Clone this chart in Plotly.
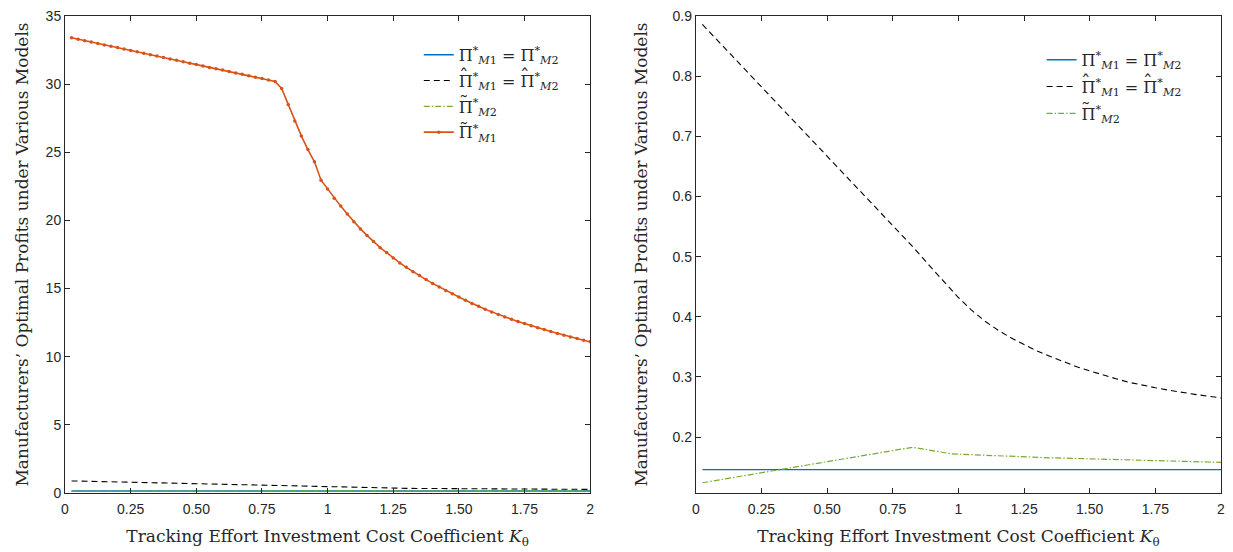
import plotly.graph_objects as go

# ---------------- data ----------------
K_ORANGE = [0.025, 0.05, 0.075, 0.1, 0.125, 0.15, 0.175, 0.2, 0.225, 0.25,
            0.275, 0.3, 0.325, 0.35, 0.375, 0.4, 0.425, 0.45, 0.475, 0.5,
            0.525, 0.55, 0.575, 0.6, 0.625, 0.65, 0.675, 0.7, 0.725, 0.75,
            0.775, 0.8, 0.825, 0.85, 0.875, 0.9, 0.925, 0.95, 0.975, 1.0,
            1.025, 1.05, 1.075, 1.1, 1.125, 1.15, 1.175, 1.2, 1.225, 1.25,
            1.275, 1.3, 1.325, 1.35, 1.375, 1.4, 1.425, 1.45, 1.475, 1.5,
            1.525, 1.55, 1.575, 1.6, 1.625, 1.65, 1.675, 1.7, 1.725, 1.75,
            1.775, 1.8, 1.825, 1.85, 1.875, 1.9, 1.925, 1.95, 1.975, 2.0]
PI_TILDE_M1 = [33.40, 33.30, 33.19, 33.09, 32.99, 32.88, 32.78, 32.68, 32.57, 32.47,
               32.37, 32.26, 32.16, 32.06, 31.95, 31.85, 31.75, 31.65, 31.54, 31.44,
               31.34, 31.23, 31.13, 31.03, 30.92, 30.82, 30.72, 30.61, 30.51, 30.41,
               30.30, 30.20, 29.68, 28.50, 27.30, 26.20, 25.20, 24.30, 22.95, 22.30,
               21.63, 21.05, 20.47, 19.90, 19.38, 18.90, 18.45, 18.00, 17.64, 17.25,
               16.88, 16.56, 16.24, 15.95, 15.66, 15.38, 15.12, 14.86, 14.62, 14.38,
               14.14, 13.91, 13.70, 13.49, 13.29, 13.10, 12.91, 12.75, 12.59, 12.43,
               12.28, 12.13, 11.99, 11.85, 11.71, 11.58, 11.45, 11.33, 11.21, 11.10]

K_CURVES = [0.025, 0.8, 0.825, 0.9, 0.975, 1.0, 1.05, 1.1, 1.15, 1.2, 1.25, 1.3,
            1.35, 1.4, 1.45, 1.5, 1.55, 1.6, 1.65, 1.7, 1.75, 1.8, 1.85, 1.9,
            1.95, 2.0]
PI_HAT = [0.886, 0.527, 0.517, 0.480, 0.444, 0.432, 0.411, 0.393, 0.378, 0.365,
          0.354, 0.343, 0.334, 0.325, 0.317, 0.310, 0.303, 0.297, 0.291, 0.286,
          0.282, 0.278, 0.274, 0.271, 0.268, 0.265]
PI_TILDE_M2 = [0.124, 0.1815, 0.183, 0.1775, 0.172, 0.1715, 0.1705, 0.1695, 0.169,
               0.168, 0.1672, 0.1665, 0.1655, 0.165, 0.1643, 0.1636, 0.163, 0.1624,
               0.1618, 0.1612, 0.1606, 0.160, 0.1595, 0.159, 0.1585, 0.158]

K_BASE = [0.025, 2.0]
PI_BASE = [0.146, 0.146]

X_TICKS = [0, 0.25, 0.5, 0.75, 1, 1.25, 1.5, 1.75, 2]
X_TICKTEXT = ["0", "0.25", "0.50", "0.75", "1", "1.25", "1.50", "1.75", "2"]
Y1_TICKS = [0, 5, 10, 15, 20, 25, 30, 35]
Y2_TICKS = [0.2, 0.3, 0.4, 0.5, 0.6, 0.7, 0.8, 0.9]
Y2_TICKTEXT = ["0.2", "0.3", "0.4", "0.5", "0.6", "0.7", "0.8", "0.9"]

# legend labels (hat / tilde accents are laid over the Π as separate text)
NAME_BASE = "Π<sup>*</sup><sub><i>M</i>1</sub> = Π<sup>*</sup><sub><i>M</i>2</sub>"
NAME_HAT = "Π<sup>*</sup><sub><i>M</i>1</sub> = Π<sup>*</sup><sub><i>M</i>2</sub>"
NAME_TM2 = "Π<sup>*</sup><sub><i>M</i>2</sub>"
NAME_TM1 = "Π<sup>*</sup><sub><i>M</i>1</sub>"
HAT = "\u02c6"
TILDE = "\u02dc"

XTITLE = "Tracking Effort Investment Cost Coefficient <i>K</i><sub>θ</sub>"
YTITLE = "Manufacturers’ Optimal Profits under Various Models"

BLUE = "#0072BD"
ORANGE = "#D95319"
GREEN = "#77AC30"
BLACK = "#000000"

SERIF = "'DejaVu Serif', serif"
SANS = "'Liberation Sans', Arial, sans-serif"
TXT = "#262626"

# ---------------- figure ----------------
W, H = 1233, 552
ML, MR, MT, MB = 65, 8, 13, 59
PW = W - ML - MR
PH = H - MT - MB


def px(x):
    return (x - ML) / PW


def py(y):
    return (H - MB - y) / PH


fig = go.Figure()

DASH_BLACK = "6px,4px"
DASH_GREEN = "6px,2px,1.5px,2px"

specs = [
    ("base", K_BASE, PI_BASE, NAME_BASE, dict(color=BLUE, width=1.3), "lines", None),
    ("hat", K_CURVES, PI_HAT, NAME_HAT, dict(color=BLACK, width=1.1, dash=DASH_BLACK), "lines", None),
    ("tm2", K_CURVES, PI_TILDE_M2, NAME_TM2, dict(color=GREEN, width=1.2, dash=DASH_GREEN), "lines", None),
    ("tm1", K_ORANGE, PI_TILDE_M1, NAME_TM1, dict(color=ORANGE, width=1.6), "lines+markers",
     dict(color=ORANGE, size=3.5)),
]

for key, xs, ys, nm, ln, mode, mk in specs:
    kw = dict(x=xs, y=ys, mode=mode, name=nm, line=ln, xaxis="x", yaxis="y",
              legend="legend", legendgroup="L" + key)
    if mk:
        kw["marker"] = mk
    fig.add_trace(go.Scatter(**kw))

for key, xs, ys, nm, ln, mode, mk in specs[:3]:
    fig.add_trace(go.Scatter(x=xs, y=ys, mode=mode, name=nm, line=ln,
                             xaxis="x2", yaxis="y2", legend="legend2",
                             legendgroup="R" + key))

axis_common = dict(
    showline=True, linecolor=TXT, linewidth=1, mirror="ticks",
    ticks="inside", ticklen=5, tickcolor=TXT, tickwidth=1,
    showgrid=False, zeroline=False,
    tickfont=dict(family=SANS, size=14, color=TXT),
)

TITLE_FONT = dict(family=SERIF, size=17, color=TXT)

x_left_end = px(592)
x_right_start = px(698)

LEG_L_X, LEG_L_TOP = 420, 35
LEG_R_X, LEG_R_TOP = 1045, 40

fig.update_layout(
    width=W, height=H,
    margin=dict(l=ML, r=MR, t=MT, b=MB),
    plot_bgcolor="white", paper_bgcolor="white",
    xaxis=dict(domain=[0, x_left_end], range=[0, 2], tickvals=X_TICKS,
               ticktext=X_TICKTEXT, anchor="y", ticklabelstandoff=3,
               title=dict(text=XTITLE, font=TITLE_FONT, standoff=14),
               **axis_common),
    yaxis=dict(domain=[0, 1], range=[0, 35], tickvals=Y1_TICKS, anchor="x",
               title=dict(text=YTITLE, font=TITLE_FONT, standoff=12),
               **axis_common),
    xaxis2=dict(domain=[x_right_start, 1], range=[0, 2], tickvals=X_TICKS,
                ticktext=X_TICKTEXT, anchor="y2", ticklabelstandoff=3,
                title=dict(text=XTITLE, font=TITLE_FONT, standoff=14),
                **axis_common),
    yaxis2=dict(domain=[0, 1], range=[0.107, 0.9], tickvals=Y2_TICKS,
                ticktext=Y2_TICKTEXT, anchor="x2",
                title=dict(text=YTITLE, font=TITLE_FONT, standoff=20),
                **axis_common),
    legend=dict(x=px(LEG_L_X), y=py(LEG_L_TOP), xanchor="left", yanchor="top",
                bgcolor="rgba(0,0,0,0)", borderwidth=0,
                font=dict(family=SERIF, size=16, color=TXT),
                tracegroupgap=2),
    legend2=dict(x=px(LEG_R_X), y=py(LEG_R_TOP), xanchor="left", yanchor="top",
                 bgcolor="rgba(0,0,0,0)", borderwidth=0,
                 font=dict(family=SERIF, size=16, color=TXT),
                 tracegroupgap=3),
    showlegend=True,
)

# accents over the Π glyphs in the legends
ROW_L = [54, 82, 109, 136]
ROW_R = [59, 88, 116]
ACC_DY = -9


def accent(ch, xpix, ypix):
    fig.add_annotation(x=px(xpix), y=py(ypix), xref="paper", yref="paper",
                       showarrow=False, text=ch, xanchor="center", yanchor="middle",
                       font=dict(family=SERIF, size=19, color=TXT))


accent(HAT, 465, ROW_L[1] + ACC_DY)
accent(HAT, 527, ROW_L[1] + ACC_DY)
accent(TILDE, 465, ROW_L[2] + ACC_DY)
accent(TILDE, 465, ROW_L[3] + ACC_DY)
accent(HAT, 1090, ROW_R[1] + ACC_DY)
accent(HAT, 1152, ROW_R[1] + ACC_DY)
accent(TILDE, 1090, ROW_R[2] + ACC_DY)

fig.write_html("out.html")
